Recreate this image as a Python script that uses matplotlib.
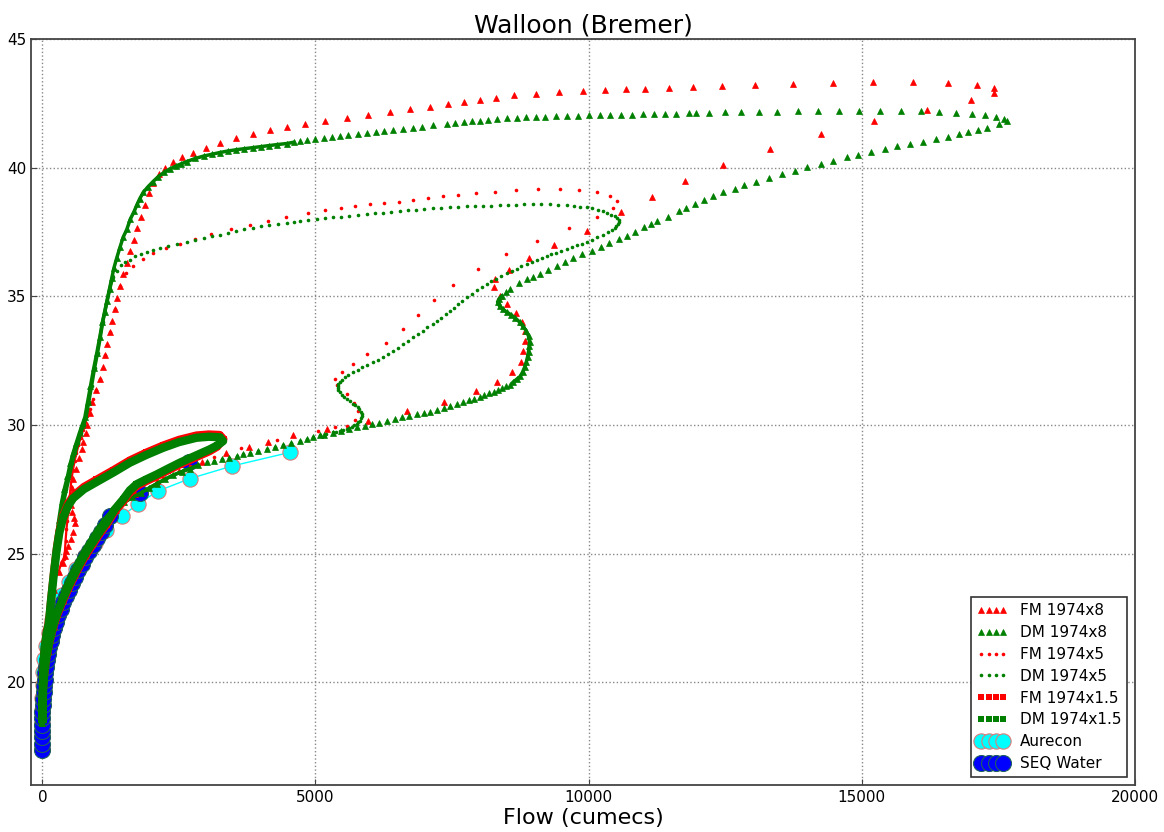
import numpy as np
import matplotlib
matplotlib.use("Agg")
import matplotlib.pyplot as plt

# --- Données (débit en m3/s, niveau en m) ---

# FM 1974x8 (triangles rouges)
fm8_q = [0, 15, 60, 140, 220, 300, 369, 412, 440, 472, 520, 564, 595, 580, 546, 525, 515, 535, 564,
         610, 670, 717, 750, 790, 820, 865, 915, 975, 1055, 1110, 1150, 1190, 1235, 1280, 1325,
         1372, 1420, 1480, 1545, 1610, 1670, 1735, 1805, 1870, 1945, 2030, 2130, 2250, 2388, 2560,
         2754, 3000, 3247, 3550, 3851, 4160, 4473, 4802, 5168, 5571, 5955, 6357, 6723, 7089, 7419,
         7712, 8004, 8297, 8626, 9029, 9450, 9889, 10291, 10675, 11041, 11480, 11919, 12450, 13053,
         13749, 14480, 15212, 15944, 16584, 17115, 17426, 17426, 17005, 16200, 15230, 14260, 13328,
         12468, 11773, 11151, 10584, 9962, 9358, 8900, 8534, 8278, 8260, 8370, 8498, 8662, 8772,
         8827, 8827, 8790, 8754, 8589, 8315, 7931, 7346, 6669, 5955, 5205, 4582, 4125, 3778, 3357,
         2918, 2500, 2100, 1700, 1350, 1050, 800, 560, 380, 220, 100, 30, 0]
fm8_h = [18.9, 20.1, 21.5, 22.8, 23.6, 24.3, 24.65, 24.9, 25.1, 25.3, 25.55, 25.82, 26.2, 26.4,
         26.6, 26.9, 27.24, 27.55, 27.9, 28.3, 28.7, 29.05, 29.35, 29.7, 30.0, 30.45, 30.9,
         31.35, 31.8, 32.25, 32.7, 33.15, 33.6, 34.05, 34.5, 34.95, 35.4, 35.85, 36.3, 36.75, 37.2,
         37.65, 38.1, 38.55, 39.0, 39.4, 39.75, 40.0, 40.22, 40.4, 40.57, 40.77, 40.96, 41.14, 41.31,
         41.45, 41.58, 41.7, 41.82, 41.93, 42.05, 42.17, 42.28, 42.36, 42.48, 42.55, 42.63, 42.71,
         42.83, 42.87, 42.94, 42.98, 43.02, 43.06, 43.06, 43.1, 43.14, 43.18, 43.22, 43.26, 43.29,
         43.33, 43.33, 43.29, 43.22, 43.1, 42.91, 42.63, 42.24, 41.82, 41.31, 40.73, 40.11, 39.49,
         38.87, 38.27, 37.55, 37.0, 36.5, 36.03, 35.68, 35.37, 35.02, 34.71, 34.36, 34.01, 33.66,
         33.28, 32.89, 32.46, 32.07, 31.68, 31.3, 30.91, 30.56, 30.17, 29.86, 29.59, 29.32, 29.16,
         28.89, 28.54, 28.2, 27.8, 27.3, 26.7, 25.9, 25.0, 24.1, 23.2, 22.2, 21.2, 20.1, 19.0]

# DM 1974x8 (triangles verts)
dm8_q = [0, 5, 15, 40, 80, 137, 170, 200, 230, 260, 300, 351, 400, 460, 510, 560, 620, 680, 730, 778,
         830, 880, 940, 997, 1050, 1100, 1140, 1180, 1230, 1270, 1310, 1363, 1420, 1480, 1546, 1610,
         1680, 1740, 1784, 1850, 1930, 2022, 2120, 2230, 2333, 2450, 2540, 2644, 2800, 2950, 3100,
         3247, 3400, 3550, 3700, 3851, 4000, 4150, 4300, 4473, 4600, 4711, 4850, 5000, 5150, 5296,
         5450, 5600, 5770, 5937, 6100, 6250, 6420, 6595, 6780, 6950, 7150, 7400, 7550, 7720, 7860,
         8004, 8150, 8330, 8500, 8681, 8850, 9030, 9200, 9400, 9596, 9800, 10000, 10200, 10400, 10600,
         10803, 11000, 11200, 11400, 11600, 11833, 11968, 12212, 12499, 12792, 13127, 13450, 13827,
         14193, 14584, 14956, 15334, 15712, 16078, 16420, 16725, 17018, 17249, 17457, 17609, 17660,
         17517, 17298, 17133, 16950, 16785, 16584, 16364, 16127, 15889, 15651, 15431, 15176, 14937,
         14736, 14480, 14260, 14004, 13785, 13547, 13309, 13071, 12852, 12687, 12468, 12285, 12120,
         11956, 11791, 11663, 11450, 11260, 11140, 11022, 10840, 10700, 10565, 10382, 10220, 10053,
         9880, 9706, 9560, 9413, 9250, 9102, 8980, 8864, 8720, 8553, 8480, 8407, 8360, 8333, 8370,
         8430, 8498, 8580, 8660, 8736, 8800, 8860, 8900, 8919, 8915, 8900, 8882, 8860, 8830, 8790,
         8749, 8680, 8613, 8560, 8490, 8420, 8339, 8260, 8180, 8090, 8004, 7910, 7810, 7700, 7589,
         7470, 7350, 7230, 7102, 6980, 6850, 6720, 6590, 6450, 6310, 6170, 6034, 5900, 5760, 5620,
         5473, 5320, 5160, 5077, 4960, 4845, 4711, 4560, 4400, 4250, 4107, 3950, 3800, 3680, 3558,
         3420, 3280, 3140, 3010, 2850, 2700, 2550, 2400, 2250, 2100, 1950, 1800, 1650, 1500, 1350,
         1200, 1100, 1000, 900, 800, 700, 600, 510, 420, 340, 260, 190, 130, 80, 40, 12, 0]
dm8_h = [18.4, 19.5, 20.3, 21.2, 21.9, 22.7, 23.5, 24.3, 25.0, 25.6, 26.3, 27.0, 27.5, 28.0, 28.5,
         28.9, 29.3, 29.7, 30.0, 30.3, 30.9, 31.5, 32.2, 32.8, 33.4, 34.0, 34.4, 34.8, 35.3, 35.7,
         36.1, 36.5, 36.9, 37.3, 37.6, 38.0, 38.3, 38.6, 38.8, 39.05, 39.25, 39.45, 39.65, 39.82,
         39.95, 40.07, 40.15, 40.24, 40.36, 40.45, 40.52, 40.59, 40.65, 40.7, 40.74, 40.78, 40.82,
         40.86, 40.9, 40.94, 40.99, 41.04, 41.08, 41.12, 41.15, 41.18, 41.22, 41.26, 41.31, 41.35,
         41.39, 41.43, 41.47, 41.51, 41.56, 41.6, 41.65, 41.7, 41.74, 41.77, 41.8, 41.83, 41.86, 41.89,
         41.92, 41.94, 41.96, 41.98, 41.99, 42.0, 42.01, 42.02, 42.03, 42.04, 42.05, 42.05, 42.06,
         42.07, 42.08, 42.09, 42.1, 42.11, 42.12, 42.13, 42.15, 42.16, 42.17, 42.18, 42.19, 42.2,
         42.21, 42.21, 42.21, 42.2, 42.19, 42.17, 42.14, 42.1, 42.05, 41.98, 41.88, 41.8, 41.69,
         41.53, 41.46, 41.37, 41.3, 41.21, 41.11, 41.01, 40.92, 40.83, 40.74, 40.62, 40.51, 40.4,
         40.27, 40.14, 40.01, 39.88, 39.75, 39.6, 39.45, 39.31, 39.19, 39.05, 38.9, 38.75, 38.59,
         38.43, 38.3, 38.1, 37.92, 37.8, 37.69, 37.49, 37.36, 37.22, 37.07, 36.93, 36.76, 36.63,
         36.49, 36.34, 36.18, 36.02, 35.86, 35.76, 35.67, 35.52, 35.28, 35.15, 35.01, 34.9, 34.78,
         34.62, 34.5, 34.39, 34.28, 34.15, 34.0, 33.83, 33.65, 33.45, 33.22, 33.05, 32.85, 32.65,
         32.45, 32.25, 32.05, 31.89, 31.77, 31.65, 31.57, 31.5, 31.43, 31.36, 31.29, 31.23, 31.16,
         31.09, 31.02, 30.95, 30.88, 30.81, 30.73, 30.66, 30.59, 30.52, 30.46, 30.41, 30.35, 30.29,
         30.22, 30.16, 30.09, 30.03, 29.96, 29.9, 29.84, 29.77, 29.7, 29.62, 29.6, 29.54, 29.47,
         29.37, 29.3, 29.22, 29.13, 29.06, 28.98, 28.91, 28.85, 28.79, 28.72, 28.66, 28.6, 28.55,
         28.43, 28.3, 28.18, 28.05, 27.89, 27.72, 27.54, 27.35, 27.18, 27.0, 26.75, 26.5, 26.25,
         25.95, 25.63, 25.28, 24.92, 24.53, 24.15, 23.75, 23.3, 22.85, 22.35, 21.8, 21.2, 20.5, 19.5,
         18.4]

# FM 1974x5 (points rouges)
fm5_q = [0, 15, 60, 140, 220, 300, 351, 390, 412, 425, 442, 457, 472, 488, 503, 518, 534, 560, 590,
         625, 660, 700, 740, 780, 820, 865, 920, 975, 1055, 1150, 1235, 1325, 1418, 1540, 1662, 1845,
         2028, 2270, 2516, 2800, 3096, 3450, 3796, 4130, 4467, 4858, 5168, 5461, 5730, 5992, 6260,
         6522, 6790, 7053, 7330, 7602, 7940, 8279, 8670, 9066, 9468, 9816, 10145, 10383, 10511,
         10438, 10145, 9633, 9048, 8480, 7968, 7510, 7163, 6870, 6595, 6284, 5937, 5680, 5479, 5351,
         5388, 5571, 5699, 5772, 5717, 5571, 5351, 5040, 4300, 3644, 3143, 2700, 2200, 1700, 1300,
         1000, 750, 520, 330, 180, 80, 20, 0]
fm5_h = [18.9, 20.1, 21.5, 22.8, 23.6, 24.3, 24.67, 24.8, 25.04, 25.5, 25.95, 26.28, 26.6, 26.92,
         27.24, 27.57, 27.9, 28.25, 28.6, 28.9, 29.2, 29.5, 29.8, 30.1, 30.35, 30.6, 31.0, 31.35, 31.8,
         32.7, 33.6, 34.5, 35.4, 35.92, 36.18, 36.44, 36.7, 36.88, 37.05, 37.24, 37.41, 37.6, 37.77,
         37.93, 38.09, 38.25, 38.35, 38.44, 38.52, 38.6, 38.64, 38.67, 38.75, 38.83, 38.89, 38.94,
         39.0, 39.06, 39.12, 39.18, 39.18, 39.14, 39.06, 38.91, 38.71, 38.44, 38.09, 37.66, 37.16,
         36.65, 36.07, 35.45, 34.87, 34.29, 33.74, 33.2, 32.77, 32.38, 32.07, 31.8, 31.57, 31.22,
         30.87, 30.56, 30.21, 29.94, 29.9, 29.75, 29.42, 29.1, 28.74, 28.4, 27.95, 27.3, 26.65,
         25.85, 25.0, 24.0, 23.0, 22.0, 21.0, 20.0, 19.0]

# DM 1974x5 (points verts)
dm5_q = [0, 5, 15, 40, 80, 160, 205, 240, 270, 300, 340, 390, 440, 495, 545, 595, 650, 705, 755, 800,
         850, 900, 955, 1010, 1060, 1105, 1145, 1185, 1235, 1290, 1360, 1440, 1520, 1601, 1700, 1800,
         1910, 2022, 2160, 2300, 2470, 2644, 2800, 2950, 3100, 3247, 3400, 3550, 3700, 3851, 4000,
         4150, 4310, 4473, 4600, 4711, 4870, 5020, 5170, 5315, 5470, 5620, 5780, 5937, 6090, 6240,
         6390, 6541, 6690, 6840, 6990, 7144, 7300, 7455, 7610, 7766, 7920, 8070, 8220, 8370, 8520,
         8670, 8820, 8974, 9130, 9290, 9440, 9596, 9730, 9850, 9962, 10070, 10170, 10254, 10340,
         10410, 10474, 10520, 10547, 10547, 10530, 10505, 10474, 10420, 10350, 10254, 10160, 10060,
         9962, 9870, 9780, 9690, 9596, 9500, 9410, 9320, 9230, 9140, 9050, 8960, 8864, 8770, 8680,
         8590, 8498, 8400, 8310, 8220, 8132, 8040, 7950, 7860, 7766, 7690, 7610, 7530, 7455, 7380,
         7300, 7220, 7144, 7050, 6960, 6870, 6778, 6690, 6600, 6505, 6412, 6320, 6230, 6140, 6046,
         5950, 5860, 5770, 5680, 5600, 5540, 5480, 5443, 5415, 5406, 5410, 5420, 5445, 5480, 5525,
         5571, 5625, 5680, 5730, 5772, 5805, 5830, 5845, 5845, 5830, 5810, 5785, 5754, 5710, 5670,
         5620, 5571, 5500, 5440, 5380, 5315, 5200, 5077, 4960, 4845, 4711, 4560, 4400, 4250, 4107,
         3950, 3800, 3680, 3558, 3420, 3280, 3140, 3010, 2850, 2700, 2550, 2400, 2250, 2100, 1950,
         1800, 1650, 1500, 1350, 1200, 1100, 1000, 900, 800, 700, 600, 510, 420, 340, 260, 190, 130,
         80, 40, 12, 0]
dm5_h = [18.4, 19.5, 20.3, 21.2, 21.9, 22.7, 23.5, 24.3, 25.0, 25.6, 26.3, 27.0, 27.5, 28.0, 28.5,
         28.9, 29.3, 29.7, 30.0, 30.3, 30.9, 31.5, 32.2, 32.8, 33.4, 34.0, 34.4, 34.8, 35.3, 35.76,
         36.0, 36.2, 36.33, 36.42, 36.55, 36.65, 36.73, 36.81, 36.89, 36.97, 37.05, 37.12, 37.19,
         37.26, 37.33, 37.39, 37.46, 37.53, 37.6, 37.66, 37.72, 37.77, 37.82, 37.86, 37.89, 37.92,
         37.96, 38.0, 38.04, 38.07, 38.1, 38.13, 38.16, 38.19, 38.22, 38.25, 38.28, 38.31, 38.34,
         38.37, 38.4, 38.43, 38.45, 38.47, 38.49, 38.5, 38.51, 38.52, 38.53, 38.54, 38.55, 38.56,
         38.57, 38.58, 38.58, 38.57, 38.56, 38.54, 38.52, 38.49, 38.47, 38.42, 38.37, 38.31, 38.24,
         38.18, 38.12, 38.04, 37.96, 37.88, 37.8, 37.72, 37.65, 37.58, 37.5, 37.38, 37.29, 37.2,
         37.11, 37.04, 36.98, 36.91, 36.84, 36.77, 36.7, 36.63, 36.56, 36.48, 36.41, 36.33, 36.25,
         36.17, 36.08, 35.99, 35.9, 35.8, 35.69, 35.58, 35.47, 35.35, 35.23, 35.1, 34.97, 34.83,
         34.7, 34.56, 34.42, 34.3, 34.17, 34.05, 33.92, 33.79, 33.66, 33.53, 33.41, 33.27, 33.14,
         33.0, 32.87, 32.76, 32.65, 32.54, 32.44, 32.34, 32.24, 32.14, 32.05, 31.95, 31.85, 31.75,
         31.66, 31.58, 31.5, 31.42, 31.35, 31.27, 31.18, 31.09, 31.0, 30.92, 30.83, 30.76, 30.69,
         30.6, 30.5, 30.42, 30.34, 30.25, 30.17, 30.1, 30.03, 29.98, 29.93, 29.88, 29.84, 29.8,
         29.77, 29.74, 29.72, 29.66, 29.6, 29.54, 29.47, 29.37, 29.3, 29.22, 29.13, 29.06, 28.98,
         28.91, 28.85, 28.79, 28.72, 28.66, 28.6, 28.55, 28.43, 28.3, 28.18, 28.05, 27.89, 27.72,
         27.54, 27.35, 27.18, 27.0, 26.75, 26.5, 26.25, 25.95, 25.63, 25.28, 24.92, 24.53, 24.15,
         23.75, 23.3, 22.85, 22.35, 21.8, 21.2, 20.5, 19.5, 18.4]

# FM 1974x1.5 (carrés rouges)
fm15_q = [0, 5, 15, 40, 80, 120, 160, 215, 260, 310, 380, 470, 564, 760, 991, 1300, 1601, 1900, 2211,
          2500, 2821, 3050, 3247, 3320, 3200, 3064, 2800, 2516, 2300, 2089, 1900, 1723, 1600, 1478,
          1320, 1180, 1050, 925, 790, 660, 565, 480, 370, 280, 200, 130, 75, 38, 15, 4, 0]
fm15_h = [18.7, 19.5, 20.4, 21.4, 22.0, 22.4, 23.3, 24.4, 25.2, 25.9, 26.5, 26.95, 27.25, 27.6,
          27.88, 28.25, 28.63, 28.93, 29.21, 29.43, 29.6, 29.64, 29.62, 29.45, 29.14, 28.97, 28.72,
          28.45, 28.22, 27.99, 27.8, 27.6, 27.36, 27.0, 26.6, 26.12, 25.75, 25.34, 24.9, 24.4, 24.0,
          23.63, 23.1, 22.62, 22.1, 21.5, 20.9, 20.3, 19.7, 19.1, 18.9]

# DM 1974x1.5 (carrés verts)
dm15_q = [0, 5, 15, 40, 80, 120, 160, 215, 260, 310, 380, 470, 564, 760, 991, 1300, 1601, 1900, 2211,
          2500, 2821, 3050, 3247, 3308, 3200, 3064, 2800, 2516, 2300, 2089, 1900, 1723, 1600, 1478,
          1320, 1180, 1050, 925, 790, 660, 565, 480, 370, 280, 200, 130, 75, 38, 15, 4, 0]
dm15_h = [18.4, 19.4, 20.3, 21.3, 21.9, 22.3, 23.2, 24.3, 25.1, 25.8, 26.4, 26.85, 27.15, 27.5, 27.78,
          28.15, 28.53, 28.83, 29.11, 29.33, 29.5, 29.54, 29.52, 29.37, 29.2, 29.05, 28.8, 28.53,
          28.3, 28.07, 27.88, 27.69, 27.45, 27.1, 26.7, 26.22, 25.85, 25.44, 25.0, 24.5, 24.1, 23.73,
          23.2, 22.72, 22.2, 21.6, 21.0, 20.4, 19.8, 19.1, 18.4]

# Aurecon (cercles cyan)
aur_q = [0, 0, 0, 0, 2, 7, 18, 38, 70, 115, 180, 260, 360, 480, 620, 778, 961, 1174, 1467, 1753,
         2119, 2698, 3470, 4528]
aur_h = [17.4, 17.9, 18.4, 18.9, 19.4, 19.9, 20.4, 20.9, 21.4, 21.9, 22.4, 22.9, 23.4, 23.9, 24.4,
         24.9, 25.4, 25.91, 26.46, 26.94, 27.43, 27.91, 28.4, 28.93]

# SEQ Water (cercles bleus)
seq_q = [0, 0, 0, 0, 0, 0, 0, 10, 18, 28, 37, 47, 57, 70, 88, 108, 130, 160, 185, 215, 250, 290, 335,
         380, 430, 485, 535, 595, 650, 720, 780, 850, 925, 1005, 1080, 1145, 1240, 1784, 2686]
seq_h = [17.35, 17.6, 17.85, 18.1, 18.35, 18.6, 18.85, 19.1, 19.35, 19.6, 19.85, 20.1, 20.35, 20.6,
         20.85, 21.1, 21.35, 21.6, 21.85, 22.1, 22.35, 22.6, 22.85, 23.1, 23.35, 23.6, 23.85, 24.1,
         24.35, 24.6, 24.85, 25.1, 25.35, 25.6, 25.85, 26.1, 26.46, 27.35, 28.54]

# --- Figure ---
fig = plt.figure(figsize=(11.64, 8.32), dpi=100)
ax = fig.add_axes([0.027, 0.0565, 0.948, 0.8965])

ax.plot(aur_q, aur_h, "-", color="cyan", lw=1, zorder=2)
ax.plot(aur_q, aur_h, "o", ms=11, mfc="cyan", mec="#e07a7a", mew=0.8, zorder=2, label="Aurecon")
ax.plot(seq_q, seq_h, "o", ms=11.5, mfc="#0000ff", mec="#1f5f5f", mew=0.8, zorder=2.1, label="SEQ Water")

# traits de fond pour les zones où les marqueurs se recouvrent
dm8_q_a = np.array(dm8_q, float)
dm8_h_a = np.array(dm8_h, float)
dense8 = (dm8_q_a < 4700) & ((dm8_h_a > 29.7) | (dm8_q_a < 3000))
dense8 |= (dm8_q_a > 8250) & (dm8_q_a < 9000) & (dm8_h_a > 31.6) & (dm8_h_a < 35.1)
ax.plot(np.where(dense8, dm8_q_a, np.nan), dm8_h_a, "-", color="green", lw=2.5, zorder=3.1)

dm5_q_a = np.array(dm5_q, float)
dm5_h_a = np.array(dm5_h, float)
dense5 = (dm5_q_a < 1300) | ((dm5_q_a < 3000) & (dm5_h_a < 28.6))
ax.plot(np.where(dense5, dm5_q_a, np.nan), dm5_h_a, "-", color="green", lw=2.5, zorder=3.3)

fm5_q_a = np.array(fm5_q, float)
fm5_h_a = np.array(fm5_h, float)
densef5 = (fm5_q_a < 900) & (fm5_h_a > 24.2) & (np.arange(len(fm5_q)) < 30)
ax.plot(np.where(densef5, fm5_q_a, np.nan), fm5_h_a, "-", color="red", lw=1.6, zorder=3.2)

ax.plot(fm15_q, fm15_h, "-", color="red", lw=5.5, zorder=3.4, solid_capstyle="butt")
ax.plot(dm15_q, dm15_h, "-", color="green", lw=6, zorder=3.5, solid_capstyle="butt")

ax.plot(fm8_q, fm8_h, "^", ms=5, color="red", mec="red", mew=0.5, ls="none", zorder=3, label="FM 1974x8")
ax.plot(dm8_q, dm8_h, "^", ms=5, color="green", mec="green", mew=0.5, ls="none", zorder=3.1, label="DM 1974x8")
ax.plot(fm5_q, fm5_h, "o", ms=2.6, color="red", mew=0, ls="none", zorder=3.2, label="FM 1974x5")
ax.plot(dm5_q, dm5_h, "o", ms=2.6, color="green", mew=0, ls="none", zorder=3.3, label="DM 1974x5")
ax.plot(fm15_q, fm15_h, "s", ms=4.5, color="red", mew=0, ls="none", zorder=3.4, label="FM 1974x1.5")
ax.plot(dm15_q, dm15_h, "s", ms=4.5, color="green", mew=0, ls="none", zorder=3.5, label="DM 1974x1.5")

ax.set_xlim(-200, 20000)
ax.set_ylim(16, 45)
ax.set_xticks([0, 5000, 10000, 15000, 20000])
ax.set_yticks([20, 25, 30, 35, 40, 45])
ax.tick_params(direction="in", labelsize=11, length=4, color="#444444")
for s in ax.spines.values():
    s.set_color("#444444")
    s.set_linewidth(1.3)
ax.grid(True, color="#888888", linestyle=":", linewidth=1)
ax.set_axisbelow(True)

ax.set_title("Walloon (Bremer)", fontsize=18, pad=5)
ax.set_xlabel("Flow (cumecs)", fontsize=16, labelpad=2)

h, l = ax.get_legend_handles_labels()
order = ["FM 1974x8", "DM 1974x8", "FM 1974x5", "DM 1974x5", "FM 1974x1.5", "DM 1974x1.5", "Aurecon", "SEQ Water"]
hd = dict(zip(l, h))
leg = ax.legend([hd[k] for k in order], order, loc="lower right", numpoints=4, fontsize=11,
                fancybox=False, framealpha=1, edgecolor="#333333", handlelength=2.0,
                borderaxespad=0.5, labelspacing=0.45)
leg.get_frame().set_linewidth(1.2)
leg.set_zorder(10)

fig.savefig("out.png", dpi=100)
